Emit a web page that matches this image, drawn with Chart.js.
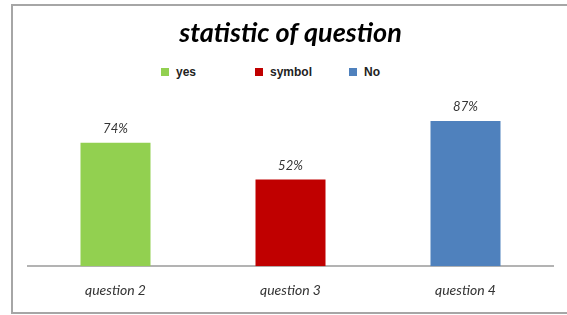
<!DOCTYPE html>
<html lang="en">
<head>
    <meta charset="UTF-8">
    <title>statistic of question</title>
    <script src="https://cdn.jsdelivr.net/npm/chart.js"></script>
    <style>
        body { margin: 0; background: #fff; }
        .wrap { position: relative; width: 567px; height: 315px; overflow: hidden; }
        .frame {
            position: absolute; left: 11px; top: 4px; width: 600px; height: 306px;
            border: 2px solid #a6a6a6; box-sizing: content-box;
        }
        .legenda {
            position: absolute; left: 161px; top: 65px; display: flex;
            font: bold 12px "Liberation Sans", Arial, sans-serif; color: #222;
        }
        .legenda-item { width: 94px; display: flex; align-items: center; height: 14px; }
        .legenda-item span.cor { width: 8px; height: 8px; margin-right: 7px; display: inline-block; }
        canvas { position: absolute; left: 0; top: 0; }
    </style>
</head>
<body>
    <div class="wrap">
        <div class="frame"></div>
        <div class="legenda" id="legenda"></div>
        <canvas id="myChart" width="567" height="315"></canvas>
    </div>

<script>
    var perguntas = ['question 2', 'question 3', 'question 4']
    var valores = [74, 52, 87]
    var legendaNomes = ['yes', 'symbol', 'No']
    var cores = ['#92d050', '#c00000', '#4f81bd']

    // legenda em html
    var legenda = document.getElementById('legenda')
    for (var c = 0; c < legendaNomes.length; c++) {
        legenda.innerHTML += `<div class="legenda-item"><span class="cor" style="background:${cores[c]}"></span>${legendaNomes[c]}</div>`
    }

    // escreve o valor em cima de cada barra
    const valorNaBarra = {
        id: 'valorNaBarra',
        afterDatasetsDraw(chart) {
            const ctx = chart.ctx
            const meta = chart.getDatasetMeta(0)
            ctx.save()
            ctx.font = 'italic 13px Lato, sans-serif'
            ctx.fillStyle = '#333'
            ctx.textAlign = 'center'
            ctx.textBaseline = 'middle'
            meta.data.forEach((bar, i) => {
                ctx.fillText(valores[i] + '%', bar.x, bar.y - 14)
            })
            ctx.restore()
        }
    }

    const myChart = new Chart(document.getElementById('myChart'), {
        type: 'bar',
        data: {
            labels: perguntas,
            datasets: [{
                label: 'statistic',
                data: valores,
                backgroundColor: cores,
                borderWidth: 0,
                barPercentage: 0.4,
                categoryPercentage: 1.0
            }]
        },
        options: {
            responsive: false,
            animation: false,
            layout: { padding: { left: 28, right: 14, bottom: 0, top: 0 } },
            plugins: {
                legend: { display: false },
                tooltip: { enabled: false },
                title: {
                    display: true,
                    text: 'statistic of question',
                    color: '#000',
                    font: { family: 'Lato', size: 27, weight: 'bold', style: 'italic' },
                    padding: { top: 17, bottom: 50 }
                }
            },
            scales: {
                y: { display: false, min: 0, max: 100 },
                x: {
                    grid: { display: false, drawTicks: false },
                    border: { color: '#b3b3b3', width: 2 },
                    ticks: {
                        padding: 16,
                        color: '#333',
                        font: { family: 'Lato', size: 14, style: 'italic' }
                    }
                }
            }
        },
        plugins: [valorNaBarra]
    })
</script>
</body>
</html>
